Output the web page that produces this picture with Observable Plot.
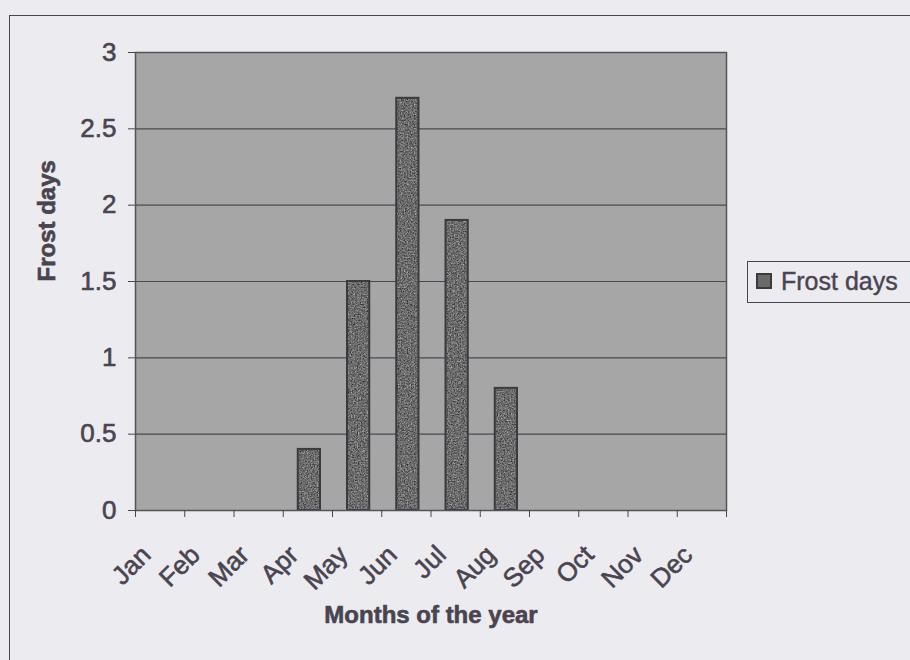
<!DOCTYPE html>
<html>
<head>
<meta charset="utf-8">
<script src="https://cdn.jsdelivr.net/npm/d3@7"></script>
<script src="https://cdn.jsdelivr.net/npm/@observablehq/plot@0.6"></script>
<style>
  html, body { margin: 0; padding: 0; background: #ecebf0; }
  #wrap { position: relative; width: 910px; height: 660px; overflow: hidden; }
  #border { position: absolute; left: 9px; top: 15px; width: 920px; height: 700px; border: 1.5px solid #4a4450; box-sizing: border-box; }
  #legend { position: absolute; left: 747px; top: 261px; width: 180px; height: 42px; border: 1.2px solid #4a4450; box-sizing: border-box;
            font-family: "Liberation Sans", Arial, sans-serif; font-size: 25px; color: #4a4450; -webkit-text-stroke: 0.4px #4a4450; }
  #legend .sw { position: absolute; left: 8px; top: 11px; width: 12px; height: 12px; background: #6a6a6a; border: 2px solid #3c3a40; }
  #legend .lb { position: absolute; left: 33px; top: 5px; white-space: nowrap; }
  svg { position: absolute; left: 0; top: 0; }
</style>
</head>
<body>
<div id="wrap">
  <div id="border"></div>
  <div id="chart"></div>
  <div id="legend"><div class="sw"></div><div class="lb">Frost days</div></div>
</div>
<script>
const months = ["Jan","Feb","Mar","Apr","May","Jun","Jul","Aug","Sep","Oct","Nov","Dec"];
const frostDays = [0, 0, 0, 0.4, 1.5, 2.7, 1.9, 0.8, 0, 0, 0, 0];
const yTicks = [0, 0.5, 1, 1.5, 2, 2.5, 3];
const seriesName = "Frost days";
const xTitle = "Months of the year";
const yTitle = "Frost days";

const bars = months.map((m, i) => ({month: m, i, v: frostDays[i]})).filter(d => d.v > 0);
const ink = "#4a4450";
const thick = {stroke: ink, strokeWidth: 0.6};

const chart = Plot.plot({
  width: 910,
  height: 660,
  marginLeft: 135,
  marginRight: 184,
  marginTop: 52,
  marginBottom: 150,
  x: {domain: [0, 12], axis: null, label: null},
  y: {domain: [0, 3], axis: null, label: null},
  style: {background: "transparent", color: ink, fontFamily: "'Liberation Sans', Arial, sans-serif"},
  marks: [
    Plot.frame({fill: "#a6a6a6", stroke: "none"}),
    Plot.gridY(yTicks, {stroke: "#4b4852", strokeOpacity: 1, strokeWidth: 1.2}),
    Plot.rectY(bars, {x1: "i", x2: d => d.i + 1, y: "v", insetLeft: 15, insetRight: 12, fill: "#6c6c6c"}),
    Plot.rectY(bars, {x1: "i", x2: d => d.i + 1, y: "v", insetLeft: 15, insetRight: 12, fill: "none", stroke: "#3c3a40", strokeWidth: 2}),
    Plot.frame({stroke: "#55525a", strokeWidth: 1.5}),
    Plot.axisY({ticks: yTicks, tickSize: 7, text: null, label: null}),
    Plot.text(yTicks, {y: d => d, text: d => String(d), frameAnchor: "left", dx: -19, textAnchor: "end", fontSize: 26, fill: ink, ...thick}),
    Plot.axisX({ticks: d3.range(13), tickFormat: () => "", tickSize: 7, label: null}),
    Plot.text(months, {x: (d, i) => i + 0.5, frameAnchor: "bottom", dx: -8, dy: 46, rotate: -45, textAnchor: "end", fontSize: 26, fill: ink, ...thick}),
    Plot.text([xTitle], {frameAnchor: "bottom", dy: 112, fontSize: 24, fontWeight: "bold", fill: ink, letterSpacing: "1px", ...thick}),
    Plot.text([yTitle], {frameAnchor: "left", dx: -88, rotate: -90, fontSize: 24, fontWeight: "bold", fill: ink, letterSpacing: "0.5px", ...thick})
  ]
});

// grain texture resembling the scanned fill
const ns = "http://www.w3.org/2000/svg";
const defs = document.createElementNS(ns, "defs");
defs.innerHTML = `
<filter id="grainLight" x="0" y="0" width="1" height="1" color-interpolation-filters="sRGB">
  <feTurbulence type="fractalNoise" baseFrequency="0.7" numOctaves="2" seed="7" result="t"/>
  <feColorMatrix in="t" type="matrix" values="0.7 0.7 0.7 0 -0.39  0.7 0.7 0.7 0 -0.39  0.7 0.7 0.7 0 -0.39  0 0 0 0 1" result="g"/>
  <feComposite in="g" in2="SourceGraphic" operator="in"/>
</filter>
<filter id="grainDark" x="0" y="0" width="1" height="1" color-interpolation-filters="sRGB">
  <feTurbulence type="fractalNoise" baseFrequency="0.7" numOctaves="2" seed="11" result="t"/>
  <feColorMatrix in="t" type="matrix" values="0.4 0.4 0.4 0 -0.18  0.4 0.4 0.4 0 -0.18  0.4 0.4 0.4 0 -0.18  0 0 0 0 1" result="g"/>
  <feComposite in="g" in2="SourceGraphic" operator="in"/>
</filter>`;
chart.insertBefore(defs, chart.firstChild);
const frames = chart.querySelectorAll('[aria-label="frame"]');
if (frames[0]) frames[0].querySelectorAll("rect").forEach(r => r.setAttribute("filter", "url(#grainLight)"));
const rects = chart.querySelectorAll('[aria-label="rect"]');
if (rects[0]) rects[0].querySelectorAll("rect").forEach(r => r.setAttribute("filter", "url(#grainDark)"));

document.getElementById("chart").appendChild(chart);
</script>
</body>
</html>
